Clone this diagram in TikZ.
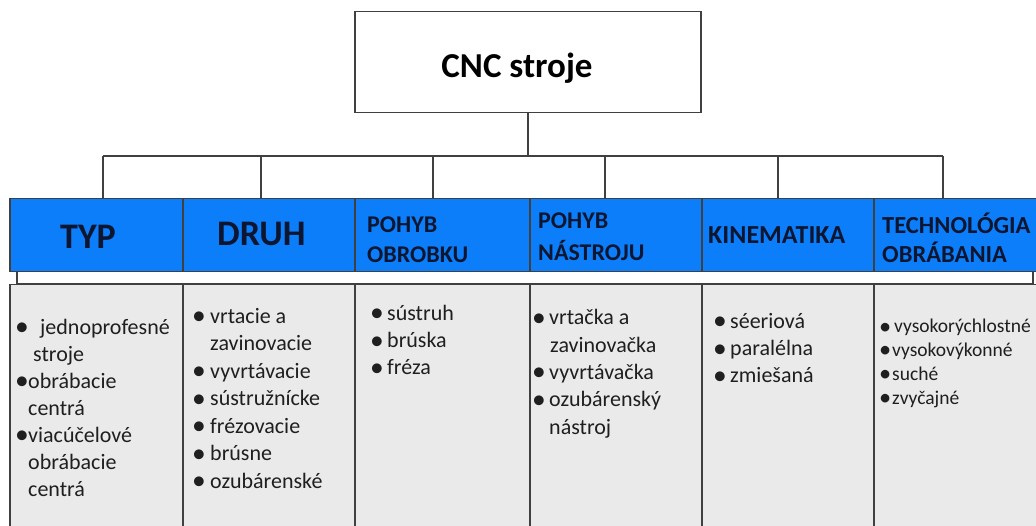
\documentclass[tikz,border=0pt]{standalone}
\usepackage{fontspec}
\setmainfont{Carlito}
\usepackage{xcolor}
\usepackage{tikz}
\usetikzlibrary{calc,positioning}
\definecolor{hdblue}{RGB}{12,126,250}
\definecolor{hdtext}{RGB}{12,22,48}
\definecolor{cellgray}{RGB}{234,234,234}
\definecolor{linegray}{RGB}{64,64,64}
\newcommand\itm[1]{\makebox[#1][l]{\raisebox{-0.07em}{\scalebox{1.25}{\textbullet}}}}

\begin{document}
\begin{tikzpicture}[x=1pt,y=-1pt,
  wire/.style={draw=linegray,line width=1.5pt},
  hdcell/.style={wire,fill=hdblue,minimum height=73pt,inner sep=0pt,anchor=north west},
  bodycell/.style={wire,fill=cellgray,minimum height=260pt,inner sep=0pt,anchor=north west},
  hdtxt/.style={text=hdtext,font=\bfseries\fontsize{24}{30}\selectfont,align=left,inner sep=0pt,anchor=base west},
  itemtxt/.style={text=black!88,font=\fontsize{22}{27.3}\selectfont,align=left,inner sep=0pt,anchor=base west}]
  \useasboundingbox (0,0) rectangle (1036,526);
  % root box
  \node[wire,fill=white,minimum width=346pt,minimum height=101pt,inner sep=0pt,anchor=north west] (root) at (354,11) {};
  \node[font=\bfseries\fontsize{35}{40}\selectfont,anchor=base] (title) at (517,78) {CNC stroje};
  % thin strip under the header band
  \draw[wire,fill=white] (17,271) rectangle (1033,284);
  % header band and body cells
  \foreach \i/\xa/\w in {1/9/173,2/182/172,3/354/175,4/529/172,5/701/172,6/873/172}{
    \node[hdcell,minimum width=\w pt] (h\i) at (\xa,198) {};
    \node[bodycell,minimum width=\w pt] (b\i) at (\xa,284) {};
  }
  % tree connectors
  \coordinate (d1) at (103,156);
  \coordinate (d2) at (261,156);
  \coordinate (d3) at (433,156);
  \coordinate (d4) at (605,156);
  \coordinate (d5) at (778,156);
  \coordinate (d6) at (943,156);
  \draw[wire] (root.south) -- (root.south |- d1);
  \draw[wire] (d1) -- (d6);
  \foreach \i in {1,...,6}
    \draw[wire] (d\i) -- (d\i |- h\i.north);
  % header labels (base = last line)
  \node[hdtxt,font=\bfseries\fontsize{36}{40}\selectfont] (typ) at (60,249) {TYP};
  \node[hdtxt,font=\bfseries\fontsize{36}{40}\selectfont] (druh) at (217,246) {DRUH};
  \node[hdtxt] (obrobok) at (367,263) {POHYB\\OBROBKU};
  \node[hdtxt,font=\bfseries\fontsize{24}{32}\selectfont] (nastroj) at (538,261) {POHYB\\NÁSTROJU};
  \node[hdtxt,font=\bfseries\fontsize{26}{30}\selectfont] (kinem) at (708,244) {KINEMATIKA};
  \node[hdtxt,font=\bfseries\fontsize{24.5}{29}\selectfont] (techn) at (882,263) {TECHNOLÓGIA\\OBRÁBANIA};
  % item lists (base = last line)
  \node[itemtxt,font=\fontsize{22}{27}\selectfont] (typlist) at (15,496) {\itm{25pt}jednoprofesné\\\hspace*{18pt}stroje\\
    \itm{13pt}obrábacie\\\hspace*{13pt}centrá\\\itm{13pt}viacúčelové\\
    \hspace*{13pt}obrábacie\\\hspace*{13pt}centrá};
  \node[itemtxt,font=\fontsize{22}{27.5}\selectfont] (druhlist) at (192,488) {\itm{18pt}vrtacie a\\
    \hspace*{18pt}zavinovacie\\\itm{18pt}vyvrtávacie\\\itm{18pt}sústružnícke\\
    \itm{18pt}frézovacie\\\itm{18pt}brúsne\\\itm{18pt}ozubárenské};
  \node[itemtxt] (obroblist) at (370,375) {\itm{17pt}sústruh\\\itm{17pt}brúska\\\itm{17pt}fréza};
  \node[itemtxt] (nastrlist) at (532,434) {\itm{17pt}vrtačka a\\\hspace*{18pt}zavinovačka\\
    \itm{17pt}vyvrtávačka\\\itm{17pt}ozubárenský\\\hspace*{17pt}nástroj};
  \node[itemtxt] (kinlist) at (713,383) {\itm{17pt}séeriová\\\itm{17pt}paralélna\\\itm{17pt}zmiešaná};
  \node[itemtxt,font=\fontsize{19.5}{23.7}\selectfont] (techlist) at (879,404) {\itm{15pt}vysokorýchlostné\\
    \itm{13pt}vysokovýkonné\\\itm{13pt}suché\\\itm{13pt}zvyčajné};
\end{tikzpicture}
\end{document}
